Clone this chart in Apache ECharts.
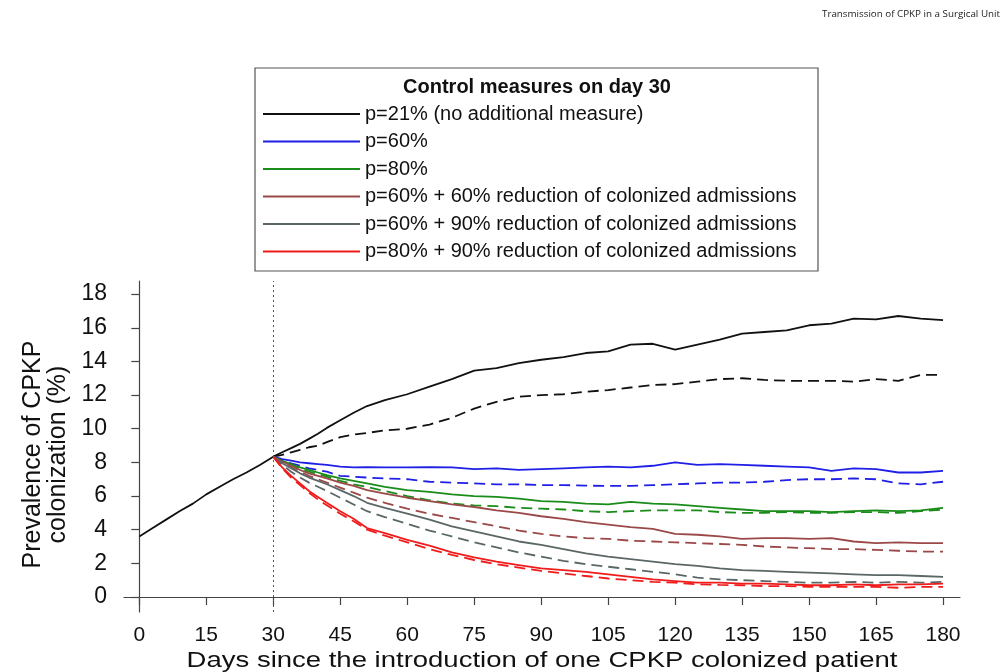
<!DOCTYPE html>
<html>
<head>
<meta charset="utf-8">
<script src="https://cdn.jsdelivr.net/npm/echarts@6/dist/echarts.min.js"></script>
<style>
html,body{margin:0;padding:0;background:#fff;}
#chart{width:1007px;height:672px;}
</style>
</head>
<body>
<div id="chart"></div>
<script>
// ---- data ----
const xTicks = [0,15,30,45,60,75,90,105,120,135,150,165,180];
const yTicks = [0,2,4,6,8,10,12,14,16,18];

const daysPre = [0,3,6,9,12,15,18,21,24,27];
const p21Pre  = [3.6,4.1,4.6,5.1,5.55,6.1,6.55,7.0,7.4,7.85];

const days = [30,32,34,36,38,40,42,45,48,51,55,60,65,70,75,80,85,90,95,100,105,110,115,120,125,130,135,140,145,150,155,160,165,170,175,180];

const p21      = [8.34,8.6,8.85,9.1,9.4,9.7,10.05,10.5,10.95,11.35,11.7,12.05,12.5,12.95,13.45,13.6,13.9,14.1,14.25,14.5,14.6,15.0,15.05,14.7,15.0,15.3,15.65,15.75,15.85,16.15,16.25,16.55,16.5,16.7,16.55,16.45];
const p21Dash  = [8.34,8.45,8.6,8.75,8.9,9.0,9.2,9.5,9.65,9.75,9.9,10.0,10.25,10.65,11.2,11.6,11.9,12.0,12.05,12.2,12.3,12.45,12.6,12.65,12.8,12.95,13.0,12.9,12.85,12.85,12.85,12.8,12.95,12.85,13.2,13.2];
const p60      = [8.34,8.2,8.1,8.0,7.95,7.9,7.85,7.75,7.7,7.72,7.7,7.7,7.72,7.7,7.6,7.65,7.55,7.6,7.65,7.7,7.75,7.7,7.8,8.0,7.85,7.9,7.85,7.8,7.75,7.7,7.5,7.65,7.6,7.4,7.4,7.5];
const p60Dash  = [8.34,8.15,7.95,7.8,7.65,7.55,7.45,7.2,7.15,7.1,7.05,7.0,6.85,6.8,6.75,6.7,6.7,6.65,6.65,6.62,6.6,6.6,6.65,6.7,6.75,6.8,6.8,6.85,6.95,7.0,7.0,7.05,7.0,6.75,6.7,6.85];
const p80      = [8.34,8.1,7.9,7.7,7.55,7.4,7.25,7.05,6.9,6.75,6.55,6.35,6.25,6.1,6.0,5.95,5.85,5.7,5.65,5.55,5.5,5.65,5.55,5.5,5.4,5.3,5.2,5.1,5.1,5.1,5.05,5.1,5.15,5.1,5.15,5.3];
const p80Dash  = [8.34,8.05,7.85,7.6,7.45,7.3,7.15,6.9,6.7,6.55,6.3,6.0,5.75,5.55,5.45,5.4,5.3,5.25,5.2,5.1,5.05,5.1,5.15,5.15,5.15,5.05,5.0,5.0,5.05,5.0,5.0,5.05,5.05,5.0,5.1,5.2];
const p60r60     = [8.34,8.05,7.8,7.55,7.35,7.2,7.05,6.8,6.6,6.35,6.15,5.9,5.7,5.5,5.35,5.15,5.0,4.8,4.65,4.45,4.3,4.15,4.05,3.75,3.7,3.6,3.45,3.5,3.5,3.45,3.5,3.3,3.2,3.25,3.2,3.2];
const p60r60Dash = [8.34,8.0,7.7,7.45,7.2,7.0,6.8,6.5,6.2,5.9,5.6,5.25,4.95,4.7,4.45,4.2,3.95,3.75,3.6,3.5,3.45,3.35,3.3,3.25,3.2,3.15,3.1,3.0,2.95,2.9,2.85,2.85,2.8,2.75,2.7,2.7];
const p60r90     = [8.34,7.95,7.65,7.35,7.1,6.9,6.7,6.35,6.0,5.6,5.3,4.95,4.6,4.2,3.9,3.6,3.3,3.1,2.85,2.6,2.4,2.25,2.1,1.95,1.85,1.7,1.6,1.55,1.5,1.45,1.4,1.35,1.3,1.3,1.25,1.2];
const p60r90Dash = [8.34,7.85,7.45,7.1,6.8,6.55,6.3,5.9,5.5,5.1,4.75,4.35,3.95,3.6,3.25,2.95,2.65,2.4,2.15,1.95,1.8,1.65,1.5,1.35,1.15,1.05,1.0,0.95,0.9,0.85,0.85,0.9,0.85,0.9,0.85,0.9];
const p80r90     = [8.34,7.7,7.2,6.75,6.3,5.95,5.6,5.1,4.65,4.1,3.8,3.4,3.05,2.65,2.35,2.1,1.9,1.7,1.6,1.5,1.35,1.2,1.05,0.95,0.85,0.85,0.8,0.8,0.75,0.7,0.7,0.75,0.7,0.75,0.75,0.8];
const p80r90Dash = [8.34,7.65,7.1,6.65,6.2,5.8,5.45,4.95,4.5,4.0,3.65,3.25,2.85,2.5,2.2,1.95,1.75,1.55,1.4,1.25,1.1,1.0,0.9,0.85,0.75,0.72,0.7,0.65,0.65,0.6,0.6,0.6,0.6,0.55,0.6,0.6];

const names = [
  'p=21% (no additional measure)',
  'p=60%',
  'p=80%',
  'p=60% + 60% reduction of colonized admissions',
  'p=60% + 90% reduction of colonized admissions',
  'p=80% + 90% reduction of colonized admissions'
];
const colors = ['#111111','#1f1fe6','#1a8c1a','#9b4848','#5b6767','#f01c1c'];

// ---- build ----
function zip(xs, ys){ return xs.map((x,i)=>[x, ys[i]]); }
const solidVals = [p21, p60, p80, p60r60, p60r90, p80r90];
const dashVals  = [p21Dash, p60Dash, p80Dash, p60r60Dash, p60r90Dash, p80r90Dash];

const FONT = 'Liberation Sans, Arial, sans-serif';
const series = [];
dashVals.forEach((v,i)=>{
  series.push({
    name: names[i] + ' (dashed)', type:'line', data: zip(days, v),
    symbol:'none', silent:true, z: 2,
    lineStyle:{color: colors[i], width: 1.8, type:[11,6]},
    itemStyle:{color: colors[i]}
  });
});
solidVals.forEach((v,i)=>{
  const d = i === 0 ? zip(daysPre, p21Pre).concat(zip(days, v)) : zip(days, v);
  const s = {
    name: names[i], type:'line', data: d,
    symbol:'none', silent:true, z: 3,
    lineStyle:{color: colors[i], width: 1.8},
    itemStyle:{color: colors[i]}
  };
  if (i === 0) {
    s.markLine = {
      silent:true, symbol:'none', label:{show:false},
      lineStyle:{color:'#555', type:[2,3], width:1},
      data:[{xAxis:30}]
    };
  }
  series.push(s);
});

const chart = echarts.init(document.getElementById('chart'), null, {renderer:'canvas'});
chart.setOption({
  animation:false,
  backgroundColor:'#fff',
  grid:{left:124, right:47, top:281, bottom:60, containLabel:false},
  xAxis:{
    type:'value', min:-3.43, max:183.8,
    axisLine:{show:true, lineStyle:{color:'#444', width:1.2}},
    axisTick:{show:true, length:8, customValues:xTicks, lineStyle:{color:'#444', width:1.2}},
    axisLabel:{customValues:xTicks, fontFamily:FONT, fontSize:21, color:'#111', margin:13},
    splitLine:{show:false}
  },
  yAxis:{
    type:'value', min:-0.89, max:18.78,
    name:'Prevalence of CPKP\ncolonization (%)',
    nameLocation:'middle', nameGap:51,
    nameTextStyle:{fontFamily:FONT, fontSize:25, color:'#111', lineHeight:25, padding:[0,16,0,0]},
    axisLine:{show:true, lineStyle:{color:'#444', width:1.2}},
    axisTick:{show:true, length:8, customValues:yTicks, lineStyle:{color:'#444', width:1.2}},
    axisLabel:{customValues:yTicks, fontFamily:FONT, fontSize:23, color:'#111', margin:17},
    splitLine:{show:false}
  },
  legend:{
    data: names,
    orient:'vertical',
    left:255, top:68,
    padding:[36, 17, 10, 8],
    icon:'rect', itemWidth:97, itemHeight:2, itemGap:7.5,
    textStyle:{fontFamily:FONT, fontSize:20, color:'#111'},
    selectedMode:false
  },
  graphic:[
    {type:'rect', silent:true, z:-1, shape:{x:255, y:68, width:563, height:203},
     style:{fill:'#fff', stroke:'#555', lineWidth:1.2}},
    {type:'text', silent:true, style:{x:537, y:87, text:'Control measures on day 30',
     textAlign:'center', textVerticalAlign:'middle', fontFamily:FONT, fontSize:20, fontWeight:'bold', fill:'#111'}},
    {type:'text', silent:true, x:542, y:661, scaleX:1.25,
     style:{x:0, y:0, text:'Days since the introduction of one CPKP colonized patient',
     textAlign:'center', textVerticalAlign:'middle', fontFamily:FONT, fontSize:22, fill:'#111'}},
    {type:'text', silent:true, style:{x:1000, y:14, text:'Transmission of CPKP in a Surgical Unit',
     textAlign:'right', textVerticalAlign:'middle', fontFamily:'Open Sans, sans-serif', fontSize:9.8, fill:'#222'}}
  ],
  series: series
});
</script>
</body>
</html>
